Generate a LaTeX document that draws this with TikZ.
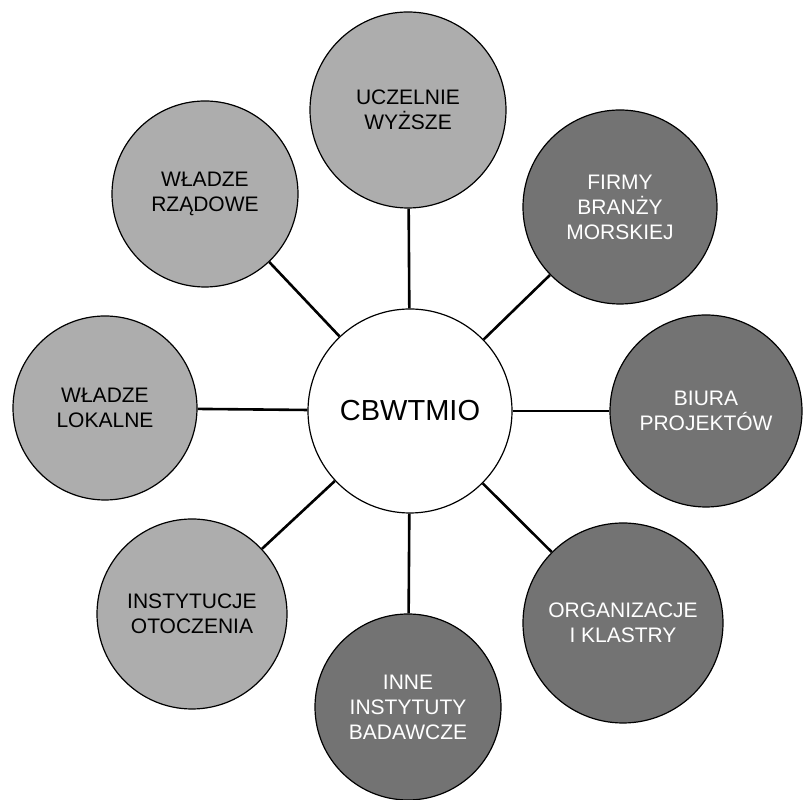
\documentclass[tikz,border=0pt]{standalone}
\usepackage{fontspec}
\setmainfont{Liberation Sans}
\definecolor{lgray}{gray}{0.68}
\definecolor{dgray}{gray}{0.45}
\tikzset{
  hub/.style={circle, draw, line width=1.2pt, fill=white, inner sep=0pt, minimum size=204pt, font=\fontsize{29}{30}\selectfont},
  lite/.style={circle, draw, line width=1.2pt, fill=lgray, inner sep=0pt, align=center, font=\fontsize{21}{25}\selectfont},
  darkc/.style={lite, fill=dgray, text=white},
  link/.style={line width=2.6pt}
}
\begin{document}
\begin{tikzpicture}[x=1pt,y=1pt]
\useasboundingbox (0,0) rectangle (804,800);
\node[hub] (c) at (410,389) {CBWTMIO};
\node[lite, minimum size=196pt] (t) at (408,690) {UCZELNIE\\WYŻSZE};
\node[lite, minimum size=186pt] (tl) at (205,606) {WŁADZE\\RZĄDOWE};
\node[darkc, minimum size=194pt] (tr) at (620,593) {FIRMY\\BRANŻY\\MORSKIEJ};
\node[lite, minimum size=184pt] (l) at (105,392) {WŁADZE\\LOKALNE};
\node[darkc, minimum size=192pt] (r) at (706,389) {BIURA\\PROJEKTÓW};
\node[lite, minimum size=190pt] (bl) at (192,186) {INSTYTUCJE\\OTOCZENIA};
\node[darkc, minimum size=200pt] (br) at (623,177) {ORGANIZACJE\\I KLASTRY};
\node[darkc, minimum size=186pt] (b) at (408,93) {INNE\\INSTYTUTY\\BADAWCZE};
\foreach \n in {t,tl,tr,l,r,bl,br,b} \draw[link] (c) -- (\n);
\end{tikzpicture}
\end{document}
